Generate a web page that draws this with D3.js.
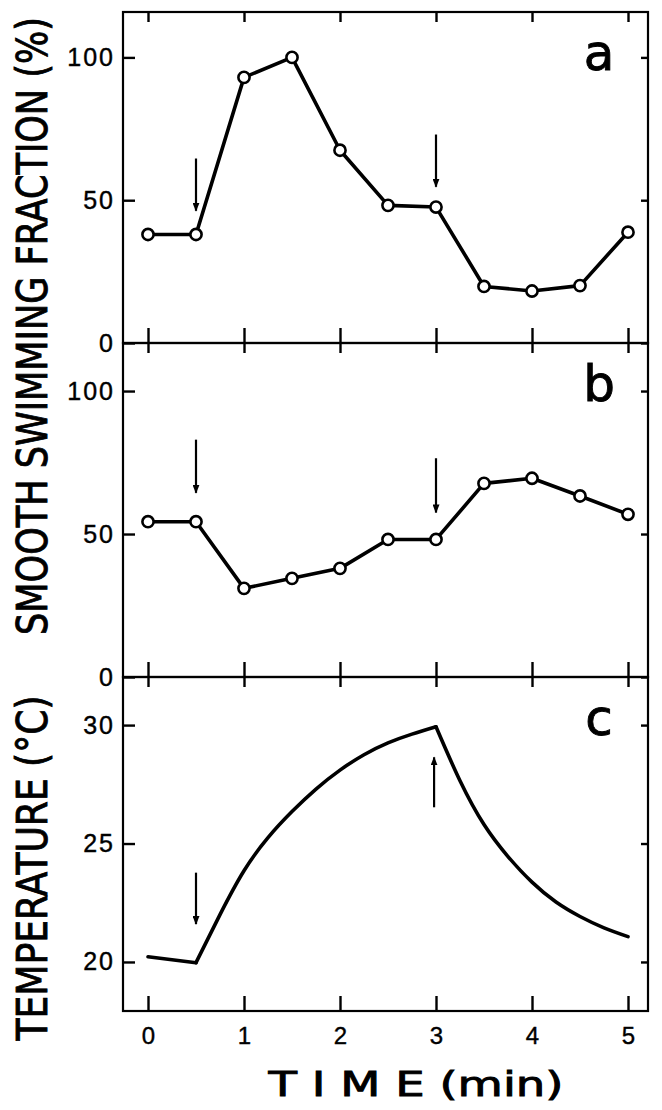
<!DOCTYPE html>
<html lang="en">
<head>
<meta charset="UTF-8">
<title>Smooth swimming fraction and temperature</title>
<script src="https://d3js.org/d3.v7.min.js"></script>
<style>
  body { margin: 0; background: #fff; }
  svg { display: block; font-family: "DejaVu Sans", sans-serif; }
  .tick line { stroke: #000; stroke-width: 2.4; }
  .tick text { fill: #000; stroke: #000; stroke-width: 0.4; }
  .data-line { fill: none; stroke: #000; stroke-width: 3.6; stroke-linejoin: round; stroke-linecap: round; }
  .dot { fill: #fff; stroke: #000; stroke-width: 2.6; }
  .arrow { stroke: #000; stroke-width: 2.2; }
  .title { fill: #000; stroke: #000; stroke-width: 0.9; }
</style>
</head>
<body>
<div id="chart"></div>
<script>
// data
const times = [0, 0.5, 1, 1.5, 2, 2.5, 3, 3.5, 4, 4.5, 5];
const fractionA = [38, 38, 93, 100, 67.5, 48.2, 47.6, 19.8, 18.2, 20.1, 38.8];
const fractionB = [54.3, 54.3, 31, 34.5, 38, 48.1, 48.1, 67.7, 69.5, 63.3, 56.9];
const tempTimes = [0, 0.5, 0.75, 1, 1.25, 1.5, 1.75, 2, 2.25, 2.5, 2.75, 3, 3.25, 3.5, 3.75, 4, 4.25, 4.5, 4.75, 5];
const tempValues = [20.22, 19.97, 22.0, 23.85, 25.25, 26.35, 27.3, 28.1, 28.75, 29.25, 29.62, 29.93, 27.65, 25.8, 24.45, 23.37, 22.53, 21.92, 21.44, 21.07];
const stimulusTimes = [0.5, 3];   // heating switched on / off
const xTicks = [0, 1, 2, 3, 4, 5];
const fractionTicks = [0, 50, 100];
const tempTicks = [20, 25, 30];
// arrows: time, value at tail, value at tip
const arrowsA = [[0.5, 64.6, 46.3], [3, 73, 54.7]];
const arrowsB = [[0.5, 83, 64.4], [3, 76.5, 57.5]];
const arrowsC = [[0.5, 23.77, 21.6], [2.98, 26.53, 28.64]];

const width = 662, height = 1110;
const frameLeft = 123, frameRight = 648;

const svg = d3.select("#chart").append("svg")
    .attr("width", width)
    .attr("height", height);

svg.append("defs").append("marker")
    .attr("id", "head")
    .attr("viewBox", "0 0 10 10")
    .attr("refX", 9).attr("refY", 5)
    .attr("markerWidth", 9).attr("markerHeight", 7)
    .attr("markerUnits", "userSpaceOnUse")
    .attr("preserveAspectRatio", "none")
    .attr("orient", "auto")
    .append("path").attr("d", "M0,0L10,5L0,10z").attr("fill", "#000");

const x = d3.scaleLinear().domain([0, 5]).range([148, 628]);
const yA = d3.scaleLinear().domain([0, 115.9]).range([343, 12]);
const yB = d3.scaleLinear().domain([0, 116.8]).range([677, 343]);
const yC = d3.scaleLinear().domain([17.93, 32.03]).range([1011, 677]);

function noDomain(g) { g.select(".domain").remove(); }

function drawFrame(y, ticks, letter, showTimeLabels) {
    const top = y.range()[1], bottom = y.range()[0];

    // left axis with labels, ticks pointing inward
    svg.append("g")
        .attr("transform", `translate(${frameLeft},0)`)
        .call(d3.axisLeft(y).tickValues(ticks).tickSize(-12).tickPadding(8).tickFormat(d3.format("d")))
        .call(noDomain)
        .call(g => g.selectAll("text")
            .style("font-size", "25px")
            .attr("letter-spacing", 2));

    svg.append("g")
        .attr("transform", `translate(${frameRight},0)`)
        .call(d3.axisRight(y).tickValues(ticks).tickSize(-7).tickFormat(""))
        .call(noDomain);

    svg.append("g")
        .attr("transform", `translate(0,${top})`)
        .call(d3.axisTop(x).tickValues(xTicks).tickSize(-10).tickFormat(""))
        .call(noDomain);

    const bottomAxis = d3.axisBottom(x).tickValues(xTicks).tickSize(-15).tickPadding(16)
        .tickFormat(showTimeLabels ? d3.format("d") : "");
    svg.append("g")
        .attr("transform", `translate(0,${bottom})`)
        .call(bottomAxis)
        .call(noDomain)
        .call(g => g.selectAll("text").style("font-size", "24px"));

    svg.append("rect")
        .attr("x", frameLeft).attr("y", top)
        .attr("width", frameRight - frameLeft).attr("height", bottom - top)
        .attr("fill", "none").attr("stroke", "#000").attr("stroke-width", 2.2);

    svg.append("text")
        .attr("class", "title")
        .attr("x", 599).attr("y", top + 58)
        .attr("text-anchor", "middle")
        .style("font-size", "50px")
        .text(letter);
}

function drawArrows(y, arrows) {
    svg.append("g").selectAll("line")
        .data(arrows)
        .join("line")
        .attr("class", "arrow")
        .attr("x1", d => x(d[0])).attr("x2", d => x(d[0]))
        .attr("y1", d => y(d[1])).attr("y2", d => y(d[2]))
        .attr("marker-end", "url(#head)");
}

function drawSeries(y, values) {
    const data = times.map((t, i) => [t, values[i]]);
    svg.append("path")
        .datum(data)
        .attr("class", "data-line")
        .attr("d", d3.line().x(d => x(d[0])).y(d => y(d[1])));
    svg.append("g").selectAll("circle")
        .data(data)
        .join("circle")
        .attr("class", "dot")
        .attr("cx", d => x(d[0]))
        .attr("cy", d => y(d[1]))
        .attr("r", 5.6);
}

// panel a
drawFrame(yA, fractionTicks, "a", false);
drawArrows(yA, arrowsA);
drawSeries(yA, fractionA);

// panel b
drawFrame(yB, fractionTicks, "b", false);
drawArrows(yB, arrowsB);
drawSeries(yB, fractionB);

// panel c: temperature trace, kinked where heating turns on and off
drawFrame(yC, tempTicks, "c", true);
drawArrows(yC, arrowsC);
const temp = tempTimes.map((t, i) => [t, tempValues[i]]);
const on = tempTimes.indexOf(stimulusTimes[0]), off = tempTimes.indexOf(stimulusTimes[1]);
const segments = [
    [temp.slice(0, on + 1), d3.curveLinear],
    [temp.slice(on, off + 1), d3.curveNatural],
    [temp.slice(off), d3.curveNatural]
];
segments.forEach(([seg, curve]) => {
    svg.append("path")
        .datum(seg)
        .attr("class", "data-line")
        .attr("d", d3.line().curve(curve).x(d => x(d[0])).y(d => yC(d[1])));
});

// axis titles, squeezed horizontally to the span they take in the figure
function title(label, cx, cy, size, span, vertical) {
    const t = svg.append("text")
        .attr("class", "title")
        .attr("text-anchor", "middle")
        .style("font-size", size + "px")
        .text(label);
    const sx = span / t.node().getComputedTextLength();
    t.attr("transform", `translate(${cx},${cy})${vertical ? " rotate(-90)" : ""} scale(${sx},1)`);
}

title("SMOOTH  SWIMMING  FRACTION (%)", 47, 326, 43, 618, true);
title("TEMPERATURE (°C)", 47, 868, 43, 345, true);
title("T I M E (min)", 416, 1096, 34, 295, false);
</script>
</body>
</html>
